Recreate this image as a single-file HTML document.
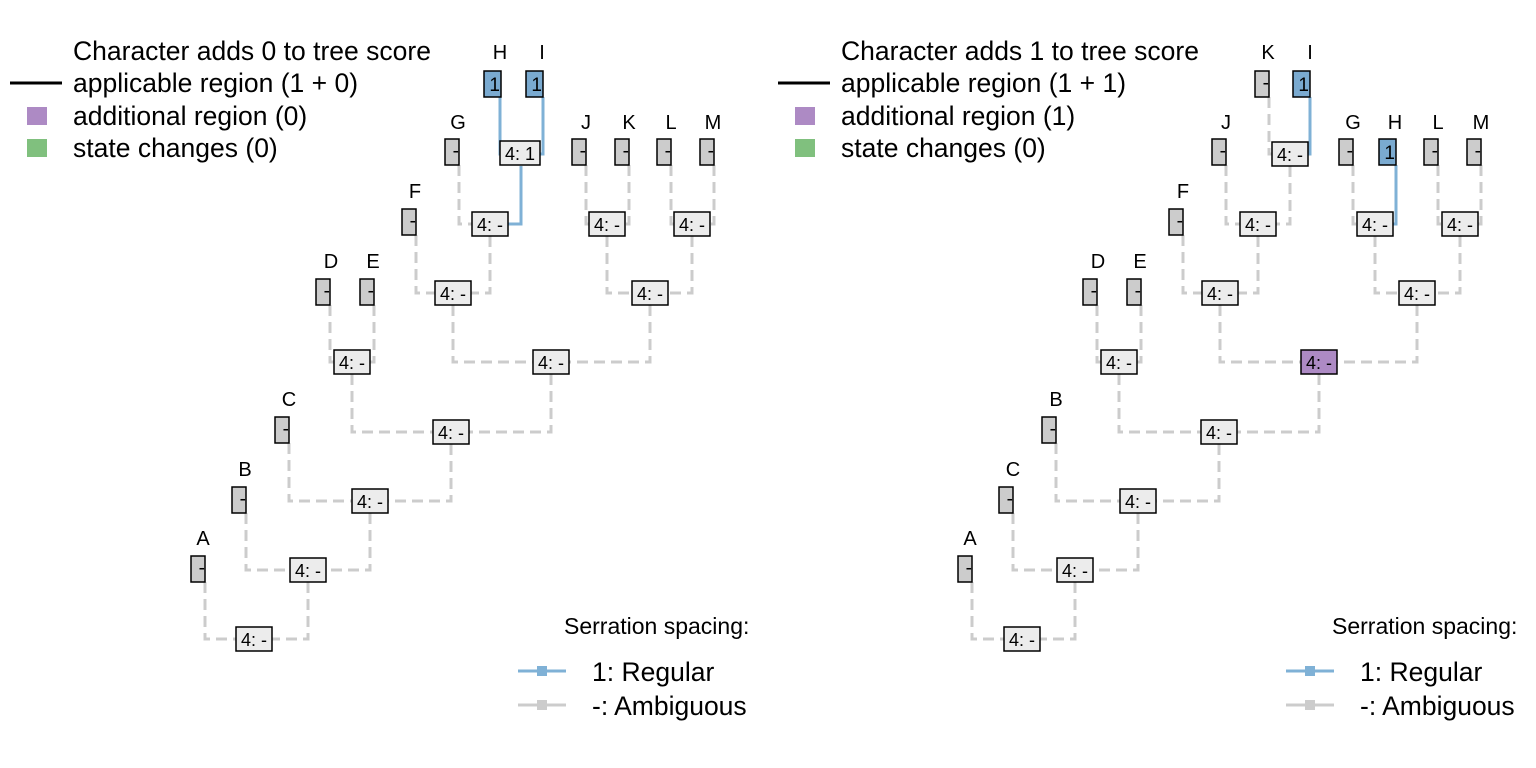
<!DOCTYPE html>
<html><head><meta charset="utf-8"><style>
html,body{margin:0;padding:0;background:#fff;}
svg{display:block;font-family:"Liberation Sans",Arial,sans-serif;}
.g{fill:none;stroke:#cccccc;stroke-width:3;stroke-dasharray:11 6;}
.b{fill:none;stroke:#7fb1d6;stroke-width:3;}
.tip{fill:#cccccc;stroke:#000;stroke-width:1.5;}
.tipb{fill:#7aaad0;stroke:#000;stroke-width:1.5;}
.nd{fill:#ececec;stroke:#000;stroke-width:1.5;}
.ndp{fill:#ad8ac4;stroke:#000;stroke-width:1.5;}
.lt{font-size:20px;text-anchor:middle;}
.nt{font-size:18px;text-anchor:middle;}
.tt{font-size:19px;text-anchor:end;}
.lg{font-size:26.5px;}
.sl{font-size:23px;}
</style></head><body>
<svg width="1536" height="768" viewBox="0 0 1536 768">
<!-- LEFT TREE edges -->
<path class="g" d="M459 165 V224 H490"/>
<path class="b" d="M521 166 V224 H490"/>
<path class="b" d="M500 97 V154 H521"/>
<path class="b" d="M543 97 V154 H521"/>
<path class="g" d="M586 165 V224 H607"/>
<path class="g" d="M629 165 V224 H607"/>
<path class="g" d="M671 165 V224 H692"/>
<path class="g" d="M714 165 V224 H692"/>
<path class="g" d="M416 235 V293 H453"/>
<path class="g" d="M490 236 V293 H453"/>
<path class="g" d="M607 236 V293 H650"/>
<path class="g" d="M692 236 V293 H650"/>
<path class="g" d="M330 305 V362 H352"/>
<path class="g" d="M374 305 V362 H352"/>
<path class="g" d="M453 305 V362 H551"/>
<path class="g" d="M650 305 V362 H551"/>
<path class="g" d="M352 374 V432 H451"/>
<path class="g" d="M551 374 V432 H451"/>
<path class="g" d="M289 443 V501 H370"/>
<path class="g" d="M451 444 V501 H370"/>
<path class="g" d="M246 513 V570 H308"/>
<path class="g" d="M370 513 V570 H308"/>
<path class="g" d="M205 582 V639 H256"/>
<path class="g" d="M308 582 V639 H256"/>
<!-- LEFT tips -->
<g>
<rect class="tipb" x="484" y="71" width="17" height="26"/><text class="tt" x="500" y="91">1</text><text class="lt" x="500" y="59">H</text>
<rect class="tipb" x="526" y="71" width="17" height="26"/><text class="tt" x="542" y="91">1</text><text class="lt" x="542" y="59">I</text>
<rect class="tip" x="445" y="139" width="14" height="26"/><text class="tt" x="459" y="157">-</text><text class="lt" x="458" y="129">G</text>
<rect class="tip" x="572" y="139" width="14" height="26"/><text class="tt" x="586" y="157">-</text><text class="lt" x="586" y="129">J</text>
<rect class="tip" x="615" y="139" width="14" height="26"/><text class="tt" x="629" y="157">-</text><text class="lt" x="629" y="129">K</text>
<rect class="tip" x="657" y="139" width="14" height="26"/><text class="tt" x="671" y="157">-</text><text class="lt" x="671" y="129">L</text>
<rect class="tip" x="700" y="139" width="14" height="26"/><text class="tt" x="714" y="157">-</text><text class="lt" x="713" y="129">M</text>
<rect class="tip" x="402" y="209" width="14" height="26"/><text class="tt" x="416" y="227">-</text><text class="lt" x="415" y="198">F</text>
<rect class="tip" x="316" y="279" width="14" height="26"/><text class="tt" x="330" y="297">-</text><text class="lt" x="331" y="268">D</text>
<rect class="tip" x="360" y="279" width="14" height="26"/><text class="tt" x="374" y="297">-</text><text class="lt" x="373" y="268">E</text>
<rect class="tip" x="275" y="417" width="14" height="26"/><text class="tt" x="289" y="435">-</text><text class="lt" x="289" y="406">C</text>
<rect class="tip" x="232" y="487" width="14" height="26"/><text class="tt" x="246" y="505">-</text><text class="lt" x="245" y="476">B</text>
<rect class="tip" x="191" y="556" width="14" height="26"/><text class="tt" x="205" y="574">-</text><text class="lt" x="203" y="545">A</text>
</g>
<!-- LEFT nodes -->
<g>
<rect class="nd" x="500" y="141" width="40" height="24"/><text class="nt" x="520" y="160">4: 1</text>
<rect class="nd" x="472" y="212" width="36" height="24"/><text class="nt" x="490" y="231">4: -</text>
<rect class="nd" x="589" y="212" width="36" height="24"/><text class="nt" x="607" y="231">4: -</text>
<rect class="nd" x="674" y="212" width="36" height="24"/><text class="nt" x="692" y="231">4: -</text>
<rect class="nd" x="435" y="281" width="36" height="24"/><text class="nt" x="453" y="300">4: -</text>
<rect class="nd" x="632" y="281" width="36" height="24"/><text class="nt" x="650" y="300">4: -</text>
<rect class="nd" x="334" y="350" width="36" height="24"/><text class="nt" x="352" y="369">4: -</text>
<rect class="nd" x="533" y="350" width="36" height="24"/><text class="nt" x="551" y="369">4: -</text>
<rect class="nd" x="433" y="420" width="36" height="24"/><text class="nt" x="451" y="439">4: -</text>
<rect class="nd" x="352" y="489" width="36" height="24"/><text class="nt" x="370" y="508">4: -</text>
<rect class="nd" x="290" y="558" width="36" height="24"/><text class="nt" x="308" y="577">4: -</text>
<rect class="nd" x="236" y="627" width="36" height="24"/><text class="nt" x="254" y="646">4: -</text>
</g>
<!-- LEFT legend -->
<text class="lg" x="73" y="60">Character adds 0 to tree score</text>
<line x1="10" y1="83" x2="62" y2="83" stroke="#000" stroke-width="3"/>
<text class="lg" x="73" y="92">applicable region (1 + 0)</text>
<rect x="27" y="107" width="20" height="18" fill="#ad8ac4"/>
<text class="lg" x="73" y="125">additional region (0)</text>
<rect x="27" y="139" width="20" height="18" fill="#80c07e"/>
<text class="lg" x="73" y="157">state changes (0)</text>
<text class="sl" x="564" y="634">Serration spacing:</text>
<line x1="518" y1="671" x2="566" y2="671" stroke="#7fb1d6" stroke-width="3"/><rect x="537" y="666" width="10" height="10" fill="#7fb1d6"/>
<text class="lg" x="592" y="681">1: Regular</text>
<line x1="518" y1="705" x2="566" y2="705" stroke="#cccccc" stroke-width="3"/><rect x="537" y="700" width="10" height="10" fill="#cccccc"/>
<text class="lg" x="592" y="715">-: Ambiguous</text>

<!-- RIGHT TREE edges -->
<path class="g" d="M1269 97 V154 H1290"/>
<path class="b" d="M1310 97 V154 H1290"/>
<path class="g" d="M1226 165 V224 H1258"/>
<path class="g" d="M1290 166 V224 H1258"/>
<path class="g" d="M1353 165 V224 H1375"/>
<path class="b" d="M1396 165 V224 H1375"/>
<path class="g" d="M1438 165 V224 H1460"/>
<path class="g" d="M1481 165 V224 H1460"/>
<path class="g" d="M1183 235 V293 H1220"/>
<path class="g" d="M1258 236 V293 H1220"/>
<path class="g" d="M1375 236 V293 H1417"/>
<path class="g" d="M1460 236 V293 H1417"/>
<path class="g" d="M1097 305 V362 H1119"/>
<path class="g" d="M1141 305 V362 H1119"/>
<path class="g" d="M1220 305 V362 H1319"/>
<path class="g" d="M1417 305 V362 H1319"/>
<path class="g" d="M1119 374 V432 H1219"/>
<path class="g" d="M1319 374 V432 H1219"/>
<path class="g" d="M1056 443 V501 H1138"/>
<path class="g" d="M1219 444 V501 H1138"/>
<path class="g" d="M1013 513 V570 H1075"/>
<path class="g" d="M1138 513 V570 H1075"/>
<path class="g" d="M972 582 V639 H1024"/>
<path class="g" d="M1075 582 V639 H1024"/>
<!-- RIGHT tips -->
<g>
<rect class="tip" x="1255" y="71" width="14" height="26"/><text class="tt" x="1269" y="89">-</text><text class="lt" x="1268" y="59">K</text>
<rect class="tipb" x="1293" y="71" width="17" height="26"/><text class="tt" x="1309" y="91">1</text><text class="lt" x="1310" y="59">I</text>
<rect class="tip" x="1212" y="139" width="14" height="26"/><text class="tt" x="1226" y="157">-</text><text class="lt" x="1226" y="129">J</text>
<rect class="tip" x="1339" y="139" width="14" height="26"/><text class="tt" x="1353" y="157">-</text><text class="lt" x="1353" y="129">G</text>
<rect class="tipb" x="1379" y="139" width="17" height="26"/><text class="tt" x="1395" y="159">1</text><text class="lt" x="1395" y="129">H</text>
<rect class="tip" x="1424" y="139" width="14" height="26"/><text class="tt" x="1438" y="157">-</text><text class="lt" x="1438" y="129">L</text>
<rect class="tip" x="1467" y="139" width="14" height="26"/><text class="tt" x="1481" y="157">-</text><text class="lt" x="1481" y="129">M</text>
<rect class="tip" x="1169" y="209" width="14" height="26"/><text class="tt" x="1183" y="227">-</text><text class="lt" x="1183" y="198">F</text>
<rect class="tip" x="1083" y="279" width="14" height="26"/><text class="tt" x="1097" y="297">-</text><text class="lt" x="1098" y="268">D</text>
<rect class="tip" x="1127" y="279" width="14" height="26"/><text class="tt" x="1141" y="297">-</text><text class="lt" x="1140" y="268">E</text>
<rect class="tip" x="1042" y="417" width="14" height="26"/><text class="tt" x="1056" y="435">-</text><text class="lt" x="1056" y="406">B</text>
<rect class="tip" x="999" y="487" width="14" height="26"/><text class="tt" x="1013" y="505">-</text><text class="lt" x="1013" y="476">C</text>
<rect class="tip" x="958" y="556" width="14" height="26"/><text class="tt" x="972" y="574">-</text><text class="lt" x="970" y="545">A</text>
</g>
<!-- RIGHT nodes -->
<g>
<rect class="nd" x="1272" y="142" width="36" height="24"/><text class="nt" x="1290" y="161">4: -</text>
<rect class="nd" x="1240" y="212" width="36" height="24"/><text class="nt" x="1258" y="231">4: -</text>
<rect class="nd" x="1357" y="212" width="36" height="24"/><text class="nt" x="1375" y="231">4: -</text>
<rect class="nd" x="1442" y="212" width="36" height="24"/><text class="nt" x="1460" y="231">4: -</text>
<rect class="nd" x="1202" y="281" width="36" height="24"/><text class="nt" x="1220" y="300">4: -</text>
<rect class="nd" x="1399" y="281" width="36" height="24"/><text class="nt" x="1417" y="300">4: -</text>
<rect class="nd" x="1101" y="350" width="36" height="24"/><text class="nt" x="1119" y="369">4: -</text>
<rect class="ndp" x="1301" y="350" width="36" height="24"/><text class="nt" x="1319" y="369">4: -</text>
<rect class="nd" x="1201" y="420" width="36" height="24"/><text class="nt" x="1219" y="439">4: -</text>
<rect class="nd" x="1120" y="489" width="36" height="24"/><text class="nt" x="1138" y="508">4: -</text>
<rect class="nd" x="1057" y="558" width="36" height="24"/><text class="nt" x="1075" y="577">4: -</text>
<rect class="nd" x="1004" y="627" width="36" height="24"/><text class="nt" x="1022" y="646">4: -</text>
</g>
<!-- RIGHT legend -->
<text class="lg" x="841" y="60">Character adds 1 to tree score</text>
<line x1="778" y1="83" x2="830" y2="83" stroke="#000" stroke-width="3"/>
<text class="lg" x="841" y="92">applicable region (1 + 1)</text>
<rect x="795" y="107" width="20" height="18" fill="#ad8ac4"/>
<text class="lg" x="841" y="125">additional region (1)</text>
<rect x="795" y="139" width="20" height="18" fill="#80c07e"/>
<text class="lg" x="841" y="157">state changes (0)</text>
<text class="sl" x="1332" y="634">Serration spacing:</text>
<line x1="1286" y1="671" x2="1334" y2="671" stroke="#7fb1d6" stroke-width="3"/><rect x="1305" y="666" width="10" height="10" fill="#7fb1d6"/>
<text class="lg" x="1360" y="681">1: Regular</text>
<line x1="1286" y1="705" x2="1334" y2="705" stroke="#cccccc" stroke-width="3"/><rect x="1305" y="700" width="10" height="10" fill="#cccccc"/>
<text class="lg" x="1360" y="715">-: Ambiguous</text>
</svg>
</body></html>
